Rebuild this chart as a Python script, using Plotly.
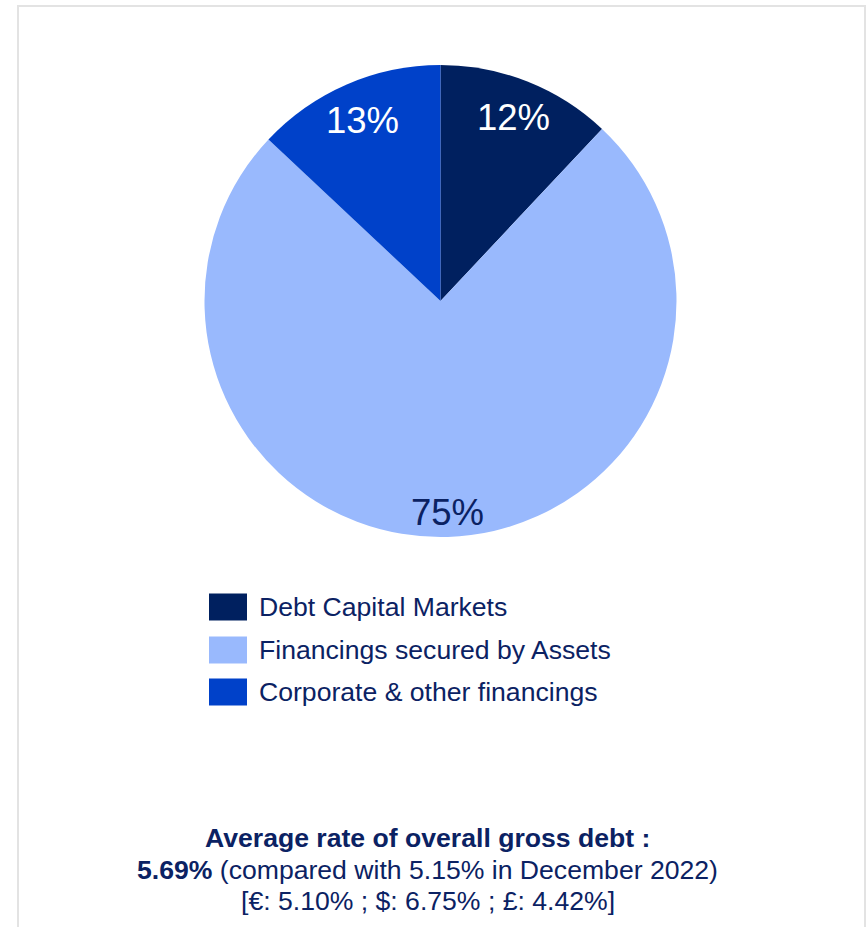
import math
import plotly.graph_objects as go

# Breakdown of gross debt by financing source (%)
categories = ["Debt Capital Markets", "Financings secured by Assets", "Corporate & other financings"]
shares = [12, 75, 13]
slice_colors = ["#00205F", "#99B9FD", "#0041C9"]
label_colors = ["#FFFFFF", "#0B2263", "#FFFFFF"]
label_radius = [0.835, 0.895, 0.835]

# Footnote lines
note_title = "Average rate of overall gross debt :"
note_rate = "5.69%"
note_compare = " (compared with 5.15% in December 2022)"
note_currencies = "[€: 5.10% ; $: 6.75% ; £: 4.42%]"

W, H = 868, 927
NAVY = "#0B2263"
FONT = "Liberation Sans, Arial, sans-serif"


def px(x):
    return x / W


def py(y):
    return 1 - y / H


cx, cy, r = 440.5, 301, 236

fig = go.Figure()
fig.add_trace(go.Pie(
    labels=categories,
    values=shares,
    sort=False,
    direction="clockwise",
    rotation=0,
    marker=dict(colors=slice_colors, line=dict(width=0)),
    textinfo="none",
    hoverinfo="label+percent",
    showlegend=False,
    domain=dict(x=[px(cx - r), px(cx + r)], y=[py(cy + r), py(cy - r)]),
))

annotations = []
shapes = []

# Percentage labels placed at the middle angle of each slice
total = sum(shares)
start = 90.0
for val, col, rf in zip(shares, label_colors, label_radius):
    sweep = 360.0 * val / total
    mid = math.radians(start - sweep / 2)
    lx = cx + rf * r * math.cos(mid)
    ly = cy - rf * r * math.sin(mid)
    annotations.append(dict(
        x=px(lx), y=py(ly), xref="paper", yref="paper",
        text=f"{round(100 * val / total)}%", showarrow=False,
        xanchor="center", yanchor="middle",
        font=dict(family=FONT, size=36.5, color=col),
    ))
    start -= sweep

# Legend drawn as swatches with labels
row_y = [607, 650, 692]
for name, col, yy in zip(categories, slice_colors, row_y):
    shapes.append(dict(
        type="rect", xref="paper", yref="paper",
        x0=px(209), x1=px(247), y0=py(yy - 13.5), y1=py(yy + 13.5),
        fillcolor=col, line=dict(width=0),
    ))
    annotations.append(dict(
        x=px(257), y=py(yy), xref="paper", yref="paper",
        text=name, showarrow=False, xanchor="left", yanchor="middle",
        font=dict(family=FONT, size=26.6, color=NAVY),
    ))

# Footnote text
note_lines = [
    (f"<b>{note_title}</b>", 838),
    (f"<b>{note_rate}</b>{note_compare}", 870),
    (note_currencies, 901),
]
for txt, yy in note_lines:
    annotations.append(dict(
        x=px(427.5), y=py(yy), xref="paper", yref="paper",
        text=txt, showarrow=False, xanchor="center", yanchor="middle",
        font=dict(family=FONT, size=26.6, color=NAVY),
    ))

# Light frame around the panel
shapes.append(dict(
    type="rect", xref="paper", yref="paper",
    x0=px(18), x1=px(865), y0=py(960), y1=py(6),
    line=dict(color="#E3E3E3", width=2), fillcolor="rgba(0,0,0,0)",
    layer="below",
))

fig.update_layout(
    width=W, height=H,
    margin=dict(l=0, r=0, t=0, b=0),
    paper_bgcolor="white",
    plot_bgcolor="white",
    annotations=annotations,
    shapes=shapes,
)

fig.write_html("out.html")
